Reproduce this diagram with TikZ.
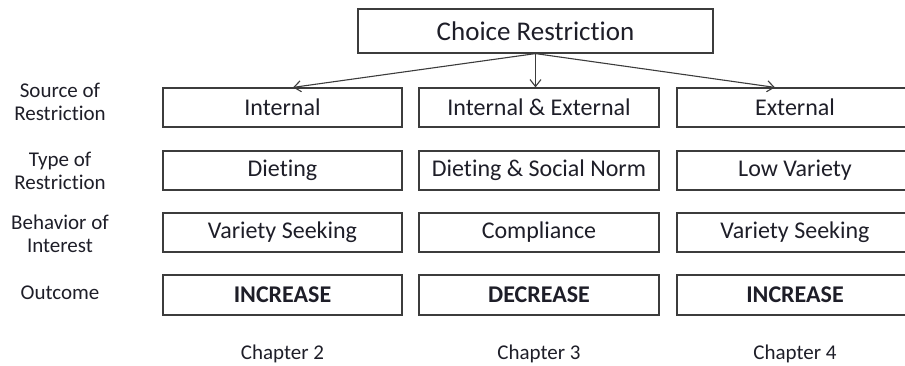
\documentclass[tikz,border=0pt]{standalone}
\usepackage{fontspec}
\setmainfont{Carlito}[Ligatures=NoCommon]
\usetikzlibrary{arrows.meta,positioning}
\definecolor{Edge}{RGB}{60,60,60}
\definecolor{Ink} {RGB}{30,30,40}

\begin{document}
\begin{tikzpicture}[x=1pt,y=-1pt,
    box/.style={draw=Edge,line width=1.2pt,fill=white,inner sep=0pt,minimum height=39pt,
      text=Ink,font=\fontsize{24}{28}\selectfont},
    outbox/.style={box,line width=2pt,minimum height=40pt,font=\fontsize{24}{28}\selectfont\bfseries},
    rowlabel/.style={align=center,text=Ink,font=\fontsize{21}{23.5}\selectfont},
    arr/.style={draw=Edge,line width=1.1pt,-{Straight Barb[length=7pt,width=11pt]}}]
  \useasboundingbox (0,0) rectangle (905,366);

  % top node
  \node[box,minimum width=355pt,minimum height=44pt,font=\fontsize{27}{31}\selectfont] (top) at (535.5,31) {Choice Restriction};

  % row labels
  \node[rowlabel] (lsrc) at (60,102) {Source of\\Restriction};
  \node[rowlabel] (ltyp) at (60,171) {Type of\\Restriction};
  \node[rowlabel] (lbeh) at (60,234) {Behavior of\\Interest};
  \node[rowlabel] (lout) at (60,293) {Outcome};

  % columns
  \foreach \i/\x/\w/\s/\t/\b/\o in {1/282.5/239/Internal/Dieting/Variety Seeking/INCREASE,
      2/539/240/Internal \& External/Dieting \& Social Norm/Compliance/DECREASE,
      3/795/236/External/Low Variety/Variety Seeking/INCREASE}{
    \node[box,minimum width=\w pt] (src\i) at (\x,107.5) {\s};
    \node[box,minimum width=\w pt] (typ\i) at (\x,170.5) {\t};
    \node[box,minimum width=\w pt] (beh\i) at (\x,232.5) {\b};
    \node[outbox,minimum width=\w pt] (out\i) at (\x,295) {\o};
    \pgfmathtruncatemacro{\ch}{\i+1}
    \node[rowlabel] (chap\i) at (\x,354) {Chapter \ch};
  }

  % arrows
  \draw[arr] (top.south) -- ([xshift=10.5pt]src1.north);
  \draw[arr] (top.south) -- (top.south |- src2.north);
  \draw[arr] (top.south) -- ([xshift=-20pt]src3.north);
\end{tikzpicture}
\end{document}
